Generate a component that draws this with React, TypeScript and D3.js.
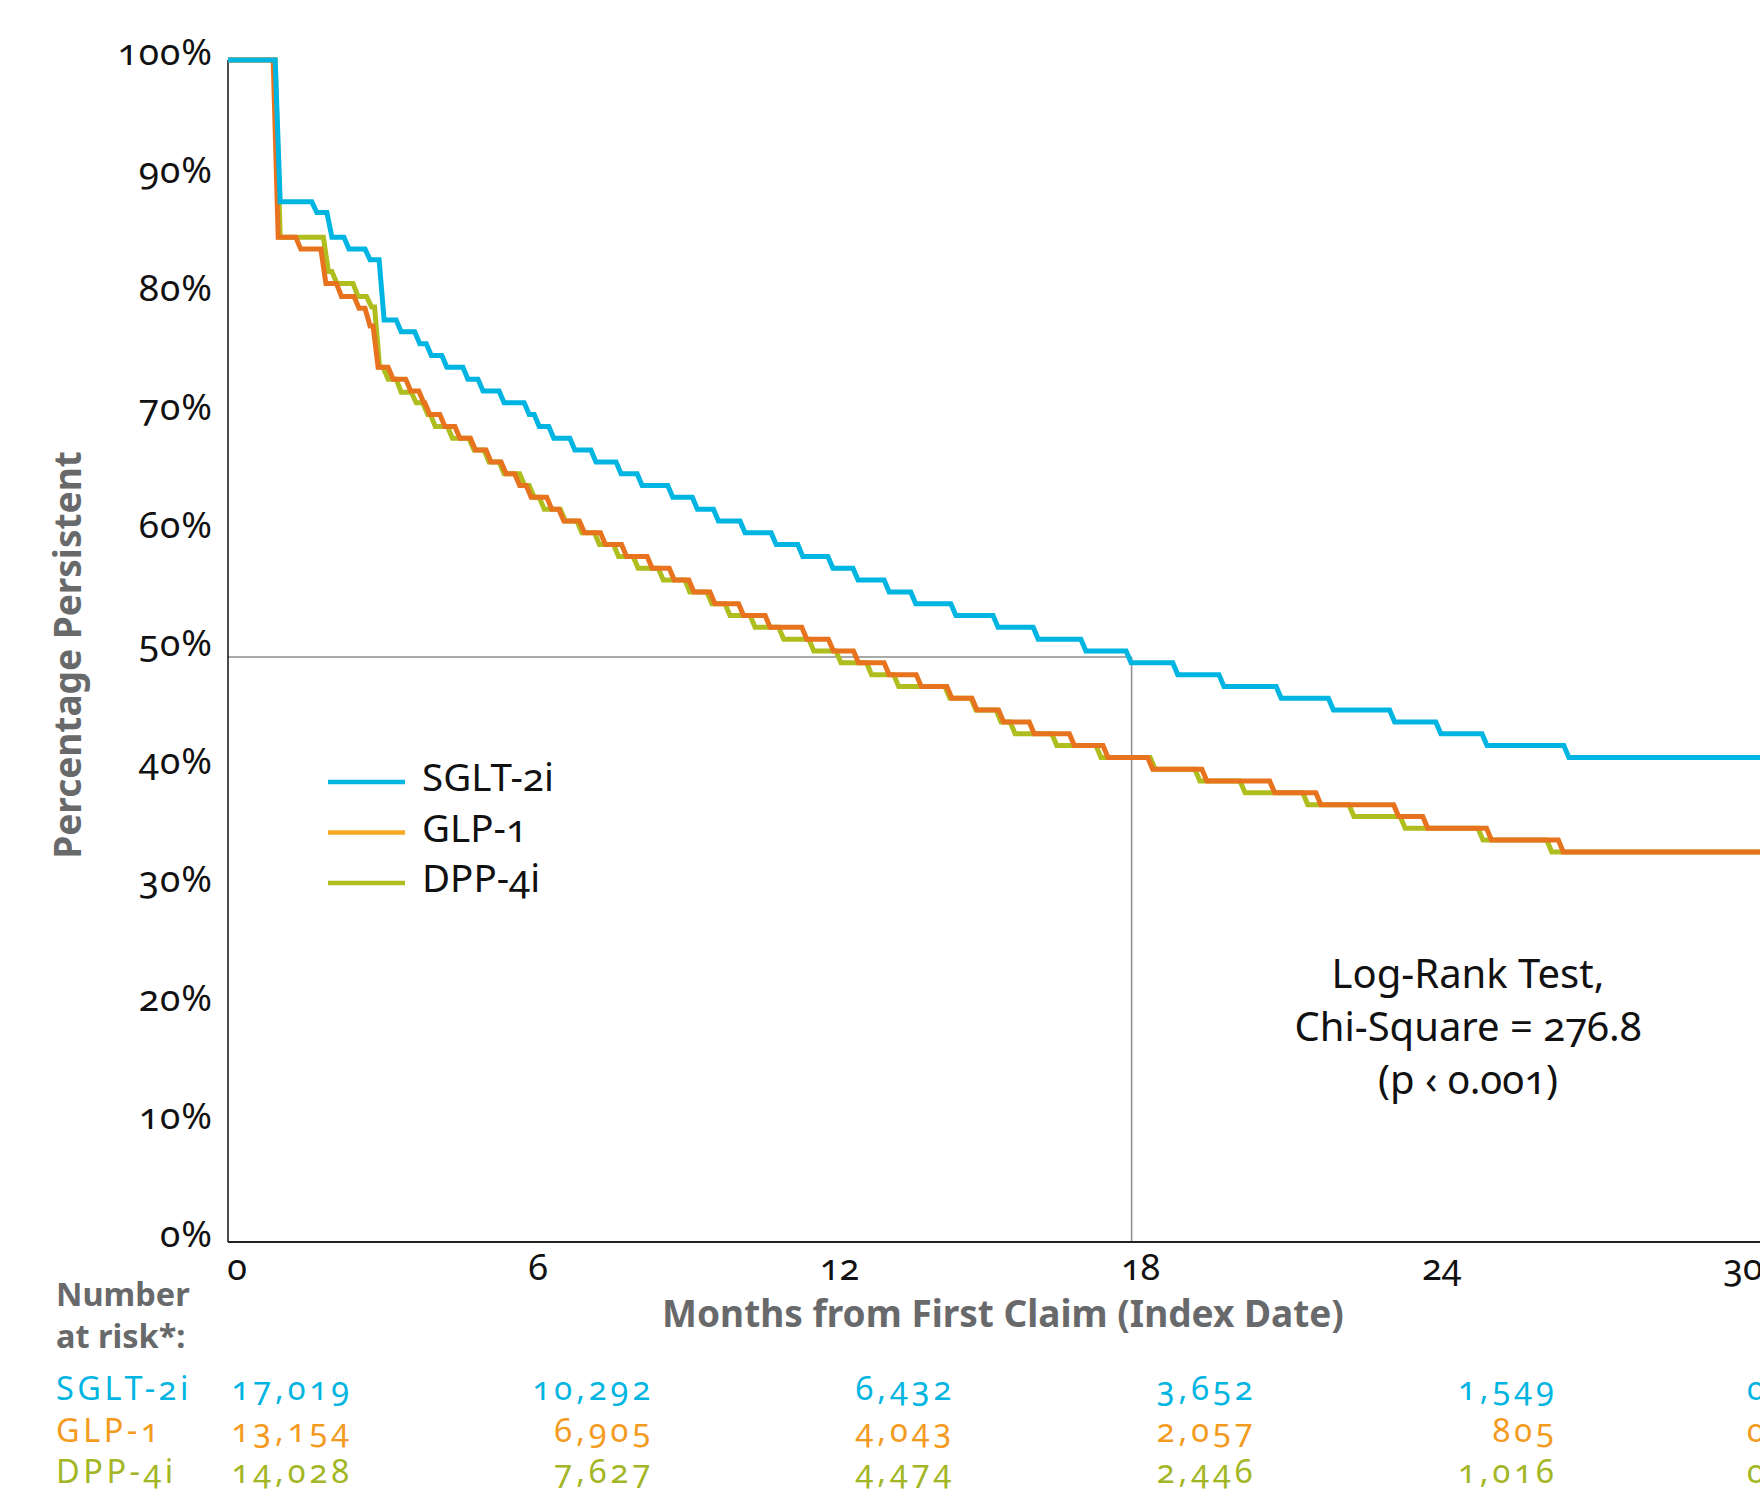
import { useMemo } from 'react'
import * as d3 from 'd3'

// tick values
const monthTicks = [0, 6, 12, 18, 24, 30]
const pctTicks = [0, 10, 20, 30, 40, 50, 60, 70, 80, 90, 100]

// step curves: [month the new level is reached, percent persistent]
const sglt2i: [number, number][] = [
  [0, 100], [1.04, 88], [1.77, 87.1], [2.07, 85], [2.41, 84], [2.83, 83.1], [3.11, 78],
  [3.45, 77], [3.82, 76], [4.05, 75], [4.36, 74], [4.78, 73], [5.08, 72], [5.5, 71],
  [6.0, 70], [6.2, 69], [6.49, 68], [6.91, 67], [7.33, 66], [7.83, 65], [8.25, 64],
  [8.86, 63], [9.35, 62], [9.77, 61], [10.3, 60], [10.92, 59], [11.45, 58], [12.05, 57],
  [12.55, 56], [13.17, 55], [13.7, 54], [14.5, 53], [15.34, 52], [16.14, 51], [17.09, 50],
  [17.99, 49], [18.92, 48], [19.84, 47], [20.98, 46], [22.02, 45], [23.24, 44], [24.16, 43],
  [25.08, 42], [26.71, 41],
]

const glp1: [number, number][] = [
  [0, 100], [1.0, 85], [1.45, 84], [1.95, 81.1], [2.26, 80], [2.61, 79], [2.83, 77.5],
  [2.99, 74], [3.29, 73], [3.64, 72], [3.9, 71], [4.02, 70], [4.32, 69], [4.62, 68],
  [4.93, 67], [5.24, 66], [5.54, 65], [5.81, 64], [6.04, 63], [6.45, 62], [6.69, 61],
  [7.1, 60], [7.52, 59], [7.94, 58], [8.45, 57], [8.89, 56], [9.28, 55], [9.7, 54],
  [10.27, 53], [10.8, 52], [11.53, 51], [12.06, 50], [12.56, 49], [13.17, 48], [13.81, 47],
  [14.42, 46], [14.92, 45], [15.45, 44], [16.06, 43], [16.86, 42], [17.53, 41], [18.42, 40],
  [19.5, 39], [20.85, 38], [21.77, 37], [23.32, 36], [23.9, 35], [25.17, 34], [26.6, 33],
]

const dpp4i: [number, number][] = [
  [0, 100], [1.04, 85], [2.0, 82.1], [2.17, 81.1], [2.59, 80], [2.86, 79.1], [3.02, 74],
  [3.19, 73], [3.45, 71.9], [3.75, 71], [3.98, 70], [4.13, 69], [4.47, 68], [4.9, 67],
  [5.2, 66], [5.5, 65], [5.91, 64], [6.1, 63], [6.3, 62], [6.72, 61], [7.05, 60], [7.4, 59],
  [7.78, 58], [8.17, 57], [8.67, 56], [9.2, 55], [9.64, 54], [10.0, 53], [10.5, 52],
  [11.07, 51], [11.67, 50], [12.21, 49], [12.82, 48], [13.36, 47], [14.38, 46], [14.9, 45],
  [15.4, 44], [15.68, 43], [16.51, 42], [17.39, 41], [18.47, 40], [19.36, 39], [20.26, 38],
  [21.51, 37], [22.43, 36], [23.45, 35], [25.0, 34], [26.37, 33],
]

// median reference lines
const medianPct = 49.5
const medianMonth = 18

// number at risk table
const riskGroups = ['SGLT-2i', 'GLP-1', 'DPP-4i']
const riskSglt = [17019, 10292, 6432, 3652, 1549, 0]
const riskGlp = [13154, 6905, 4043, 2057, 805, 0]
const riskDpp = [14028, 7627, 4474, 2446, 1016, 0]

const FONT = "'Noto Sans', 'Open Sans', sans-serif"
const OLD = { fontVariantNumeric: 'oldstyle-nums', fontFeatureSettings: "'onum'" } as const

const CYAN = '#00b5e1'
const ORANGE = '#e8731f'
const ORANGE_TXT = '#f39b1f'
const ORANGE_KEY = '#f7a823'
const OLIVE = '#b0bd1e'
const OLIVE_TXT = '#a2b626'
const GREY = '#68696b'

const App = () => {
  let width = 1760
  let height = 1491
  let rise = 0.1
  let endMonth = 31

  let xScale = d3.scaleLinear().domain([0, 30]).range([228, 1734])
  let yScale = d3.scaleLinear().domain([0, 100]).range([1242, 60])

  // turn plateau starts into a staircase with short slanted risers
  let stepPoints = (s: [number, number][]) => {
    let pts: [number, number][] = [s[0]]
    for (let i = 1; i < s.length; i++) {
      pts.push([s[i][0] - rise, s[i - 1][1]])
      pts.push(s[i])
    }
    pts.push([endMonth, s[s.length - 1][1]])
    return pts
  }

  let line = d3.line<[number, number]>()
    .x(d => xScale(d[0]))
    .y(d => yScale(d[1]))

  let series = useMemo(() => [
    { name: 'DPP-4i', data: dpp4i, color: OLIVE },
    { name: 'GLP-1', data: glp1, color: ORANGE },
    { name: 'SGLT-2i', data: sglt2i, color: CYAN },
  ], [])

  let legend = [
    { name: 'SGLT-2i', color: CYAN },
    { name: 'GLP-1', color: ORANGE_KEY },
    { name: 'DPP-4i', color: OLIVE },
  ]

  let risk = [
    { values: riskSglt, color: CYAN },
    { values: riskGlp, color: ORANGE_TXT },
    { values: riskDpp, color: OLIVE_TXT },
  ]
  let fmt = d3.format(',')

  return (
    <svg width={width} height={height} style={{ position: 'absolute', left: 0, top: 0, background: '#fff' }}
      fontFamily={FONT}>

      {/* y ticks */}
      {pctTicks.map(t => (
        <text key={t} x={213} y={yScale(t) + 5} textAnchor='end' fontSize={37} fill='#111'
          letterSpacing={1} style={OLD}>{t}%</text>
      ))}

      {/* x ticks */}
      {monthTicks.map(m => (
        <text key={m} x={xScale(m) + 9} y={1280} textAnchor='middle' fontSize={36} fill='#111'
          style={OLD}>{m}</text>
      ))}

      {/* median reference lines */}
      <line x1={xScale(0)} x2={xScale(medianMonth)} y1={yScale(medianPct)} y2={yScale(medianPct)}
        stroke='#8c8c8c' strokeWidth={1.5} />
      <line x1={xScale(medianMonth)} x2={xScale(medianMonth)} y1={yScale(medianPct)} y2={yScale(0)}
        stroke='#8c8c8c' strokeWidth={1.5} />

      {/* axes */}
      <line x1={xScale(0)} x2={xScale(0)} y1={yScale(100)} y2={yScale(0)} stroke='#111' strokeWidth={1.5} />
      <line x1={xScale(0)} x2={width} y1={yScale(0)} y2={yScale(0)} stroke='#222' strokeWidth={2} />

      {/* curves */}
      {series.map(s => (
        <path key={s.name} d={line(stepPoints(s.data)) || ''} fill='none' stroke={s.color}
          strokeWidth={5} strokeLinejoin='miter' />
      ))}

      {/* legend */}
      {legend.map((l, i) => (
        <g key={l.name} transform={`translate(328,${782 + i * 50.5})`}>
          <line x1={0} x2={77} y1={0} y2={0} stroke={l.color} strokeWidth={4.5} />
          <text x={94} y={9} fontSize={38.5} fill='#111' style={OLD}>{l.name}</text>
        </g>
      ))}

      {/* annotation */}
      <g fontSize={40} fill='#111' textAnchor='middle' style={OLD}>
        <text x={1468} y={988}>Log-Rank Test,</text>
        <text x={1468} y={1041}>Chi-Square = 276.8</text>
        <text x={1468} y={1094}>(p ‹ 0.001)</text>
      </g>

      {/* axis titles */}
      <text transform='translate(81,655) rotate(-90)' textAnchor='middle' fontSize={37}
        fontWeight={700} fill={GREY}>Percentage Persistent</text>
      <text x={1003} y={1327} textAnchor='middle' fontSize={37} fontWeight={700} fill={GREY}>
        Months from First Claim (Index Date)</text>

      {/* number at risk */}
      <text x={56} y={1306} fontSize={32.5} fontWeight={700} fill={GREY}>Number</text>
      <text x={56} y={1348} fontSize={32.5} fontWeight={700} fill={GREY}>at risk*:</text>
      {risk.map((r, i) => (
        <g key={riskGroups[i]} fill={r.color} fontSize={32.5} style={OLD}>
          <text x={56} y={1400 + i * 41.5} letterSpacing={3.5}>{riskGroups[i]}</text>
          {r.values.map((v, j) => {
            let last = j === r.values.length - 1
            return (
              <text key={j} x={last ? xScale(monthTicks[j]) + 13 : xScale(monthTicks[j]) + 125}
                y={1400 + i * 41.5} textAnchor={last ? 'start' : 'end'} letterSpacing={4}>
                {fmt(v)}
              </text>
            )
          })}
        </g>
      ))}
    </svg>
  )
}

export default App
